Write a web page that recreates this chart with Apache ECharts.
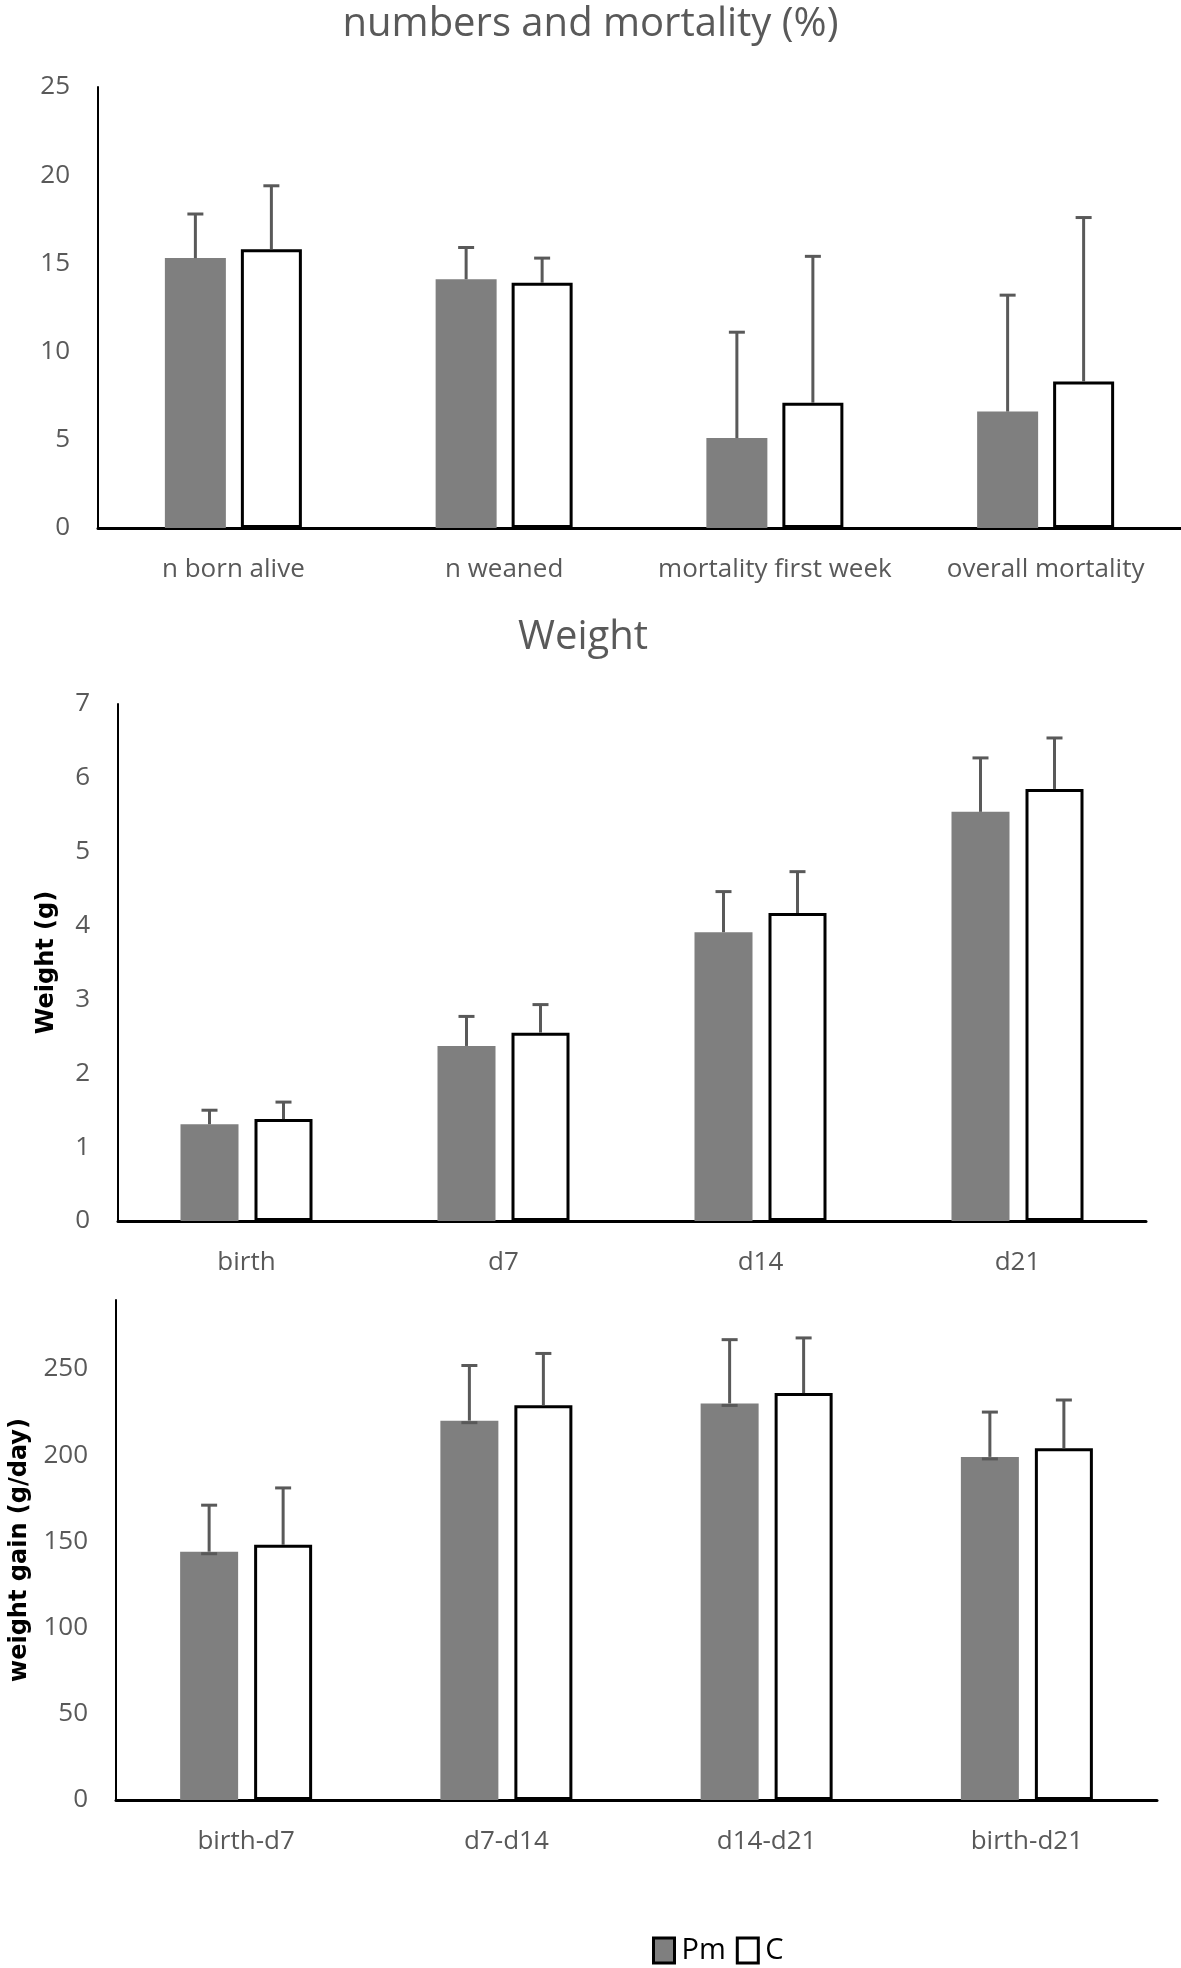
<!DOCTYPE html>
<html>
<head>
<meta charset="utf-8">
<script src="https://cdn.jsdelivr.net/npm/echarts@6/dist/echarts.min.js"></script>
<style>
  html, body { margin: 0; padding: 0; background: #fff; }
  #chart { width: 1181px; height: 1968px; }
</style>
</head>
<body>
<div id="chart"></div>
<script>
// panel 1: numbers and mortality (%)
const cat1 = ['n born alive', 'n weaned', 'mortality first week', 'overall mortality']
const pm1 = [15.3, 14.1, 5.1, 6.6]
const pm1Err = [2.5, 1.8, 6.0, 6.6]
const c1 = [15.8, 13.9, 7.1, 8.3]
const c1Err = [3.6, 1.4, 8.3, 9.3]

// panel 2: Weight
const cat2 = ['birth', 'd7', 'd14', 'd21']
const pm2 = [1.31, 2.37, 3.91, 5.54]
const pm2Err = [0.19, 0.4, 0.55, 0.73]
const c2 = [1.38, 2.55, 4.17, 5.85]
const c2Err = [0.23, 0.38, 0.56, 0.69]

// panel 3: weight gain
const cat3 = ['birth-d7', 'd7-d14', 'd14-d21', 'birth-d21']
const pm3 = [144, 220, 230, 199]
const pm3Err = [27, 32, 37, 26]
const c3 = [148, 229, 236, 204]
const c3Err = [33, 30, 32, 28]

const FONT = 'Open Sans'
const GREY = '#7f7f7f'
const TXT = '#595959'

const chart = echarts.init(document.getElementById('chart'))

function xAxis(idx, data) {
  return {
    type: 'category',
    gridIndex: idx,
    data: data,
    axisTick: { show: false },
    axisLine: { lineStyle: { color: '#000', width: 3 } },
    axisLabel: { color: TXT, fontFamily: FONT, fontSize: 26, margin: 29, interval: 0 },
  }
}

function yAxis(idx, max, interval, name, nameGap) {
  return {
    type: 'value',
    gridIndex: idx,
    min: 0,
    max: max,
    interval: interval,
    name: name,
    nameLocation: 'middle',
    nameGap: nameGap,
    nameTextStyle: { color: '#000', fontFamily: 'DejaVu Sans', fontWeight: 'bold', fontSize: 24 },
    splitLine: { show: false },
    axisTick: { show: false },
    axisLine: { show: true, lineStyle: { color: '#000', width: 2 } },
    axisLabel: { color: TXT, fontFamily: FONT, fontSize: 26, margin: 28, showMaxLabel: max % interval === 0 },
  }
}

function bars(idx, pm, c, width, gap) {
  return [
    {
      name: 'Pm',
      type: 'bar',
      xAxisIndex: idx,
      yAxisIndex: idx,
      data: pm,
      barWidth: width,
      barGap: (gap / width) * 100 + '%',
      itemStyle: { color: GREY },
      silent: true,
    },
    {
      name: 'C',
      type: 'bar',
      xAxisIndex: idx,
      yAxisIndex: idx,
      data: c,
      barWidth: width,
      itemStyle: { color: '#fff', borderColor: '#000', borderWidth: 3 },
      silent: true,
    },
  ]
}

// plus-only error bars, drawn over the bars
function errBars(idx, vals, errs, offset, baseCap) {
  return {
    name: 'err' + idx + offset,
    type: 'custom',
    xAxisIndex: idx,
    yAxisIndex: idx,
    z: 10,
    silent: true,
    data: vals.map((v, i) => [i, v, v + errs[i]]),
    encode: { x: 0, y: [1, 2] },
    renderItem(params, api) {
      const base = api.coord([api.value(0), api.value(1)])
      const top = api.coord([api.value(0), api.value(2)])
      const x = base[0] + offset
      const style = { stroke: TXT, lineWidth: 3 }
      const children = [
        { type: 'line', shape: { x1: x, y1: base[1], x2: x, y2: top[1] }, style: style },
        { type: 'line', shape: { x1: x - 8, y1: top[1], x2: x + 8, y2: top[1] }, style: style },
      ]
      if (baseCap) {
        children.push({ type: 'line', shape: { x1: x - 8, y1: base[1] + 2, x2: x + 8, y2: base[1] + 2 }, style: style })
      }
      return { type: 'group', children: children }
    },
  }
}

chart.setOption({
  animation: false,
  backgroundColor: '#fff',
  title: [
    {
      text: 'numbers and mortality (%)',
      left: 'center',
      top: 5,
      padding: 0,
      textStyle: { color: TXT, fontFamily: FONT, fontSize: 40, fontWeight: 'normal' },
    },
    {
      text: 'Weight',
      left: 583,
      textAlign: 'center',
      top: 618,
      padding: 0,
      textStyle: { color: TXT, fontFamily: FONT, fontSize: 40, fontWeight: 'normal' },
    },
  ],
  legend: {
    left: 652,
    top: 1936,
    icon: 'rect',
    itemWidth: 21,
    itemHeight: 25,
    itemGap: 10,
    padding: 0,
    selectedMode: false,
    textStyle: { color: '#000', fontFamily: FONT, fontSize: 29, padding: [0, 0, 0, 2] },
    data: [
      { name: 'Pm', itemStyle: { color: GREY, borderColor: '#000', borderWidth: 3 } },
      { name: 'C', itemStyle: { color: '#fff', borderColor: '#000', borderWidth: 3 } },
    ],
  },
  grid: [
    { left: 98, top: 87, width: 1083, height: 441 },
    { left: 118, top: 704, width: 1028, height: 517 },
    { left: 116, top: 1300, width: 1041, height: 500 },
  ],
  xAxis: [xAxis(0, cat1), xAxis(1, cat2), xAxis(2, cat3)],
  yAxis: [
    yAxis(0, 25, 5, '', 0),
    yAxis(1, 7, 1, 'Weight (g)', 59),
    yAxis(2, 290, 50, 'weight gain (g/day)', 84),
  ],
  series: [
    ...bars(0, pm1, c1, 61, 15),
    ...bars(1, pm2, c2, 58, 16),
    ...bars(2, pm3, c3, 58, 16),
    errBars(0, pm1, pm1Err, -38, false),
    errBars(0, c1, c1Err, 38, false),
    errBars(1, pm2, pm2Err, -37, false),
    errBars(1, c2, c2Err, 37, false),
    errBars(2, pm3, pm3Err, -37, true),
    errBars(2, c3, c3Err, 37, false),
  ],
})
</script>
</body>
</html>
